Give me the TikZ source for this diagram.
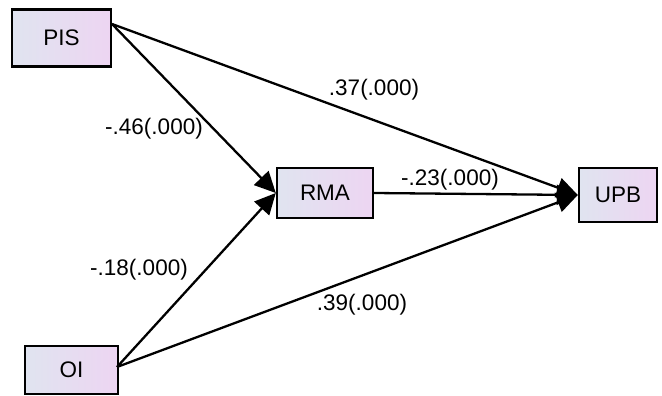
\documentclass[tikz,border=0pt]{standalone}
\usepackage{fontspec}
\setmainfont{Liberation Sans}
\usetikzlibrary{arrows.meta}
\begin{document}
\begin{tikzpicture}[x=1pt,y=-1pt,
  var/.style={draw=black, line width=2.4pt, left color=boxl, right color=boxr, minimum width=#1, inner sep=0pt, font=\fontsize{22.5}{24}\selectfont},
  path/.style={line width=2.3pt, -{Triangle[length=21pt,width=20pt]}},
  lab/.style={font=\fontsize{22.5}{24}\selectfont, inner sep=0pt}]
\definecolor{boxl}{HTML}{E0E4F0}
\definecolor{boxr}{HTML}{EDD5F2}
\useasboundingbox (0,0) rectangle (662,396);
\node[var=99pt, minimum height=57pt] (PIS) at (61.5,38) {PIS};
\node[var=96pt, minimum height=50pt] (RMA) at (325,193) {RMA};
\node[var=78pt, minimum height=54pt] (UPB) at (618,195) {UPB};
\node[var=93pt, minimum height=48pt] (OI) at (71.5,370) {OI};
\coordinate (p1) at (112,24);
\coordinate (o1) at (117,367);
\draw[path] (p1) -- (UPB.west);
\draw[path] (p1) -- (RMA.west);
\draw[path] (o1) -- (RMA.west);
\draw[path] (o1) -- (UPB.west);
\draw[path] (RMA.east) -- (UPB.west);
\node[lab] (l1) at (374,90) {.37(.000)};
\node[lab] (l2) at (154,129) {-.46(.000)};
\node[lab] (l3) at (450,180) {-.23(.000)};
\node[lab] (l4) at (139,270) {-.18(.000)};
\node[lab] (l5) at (362,305) {.39(.000)};
\end{tikzpicture}
\end{document}
